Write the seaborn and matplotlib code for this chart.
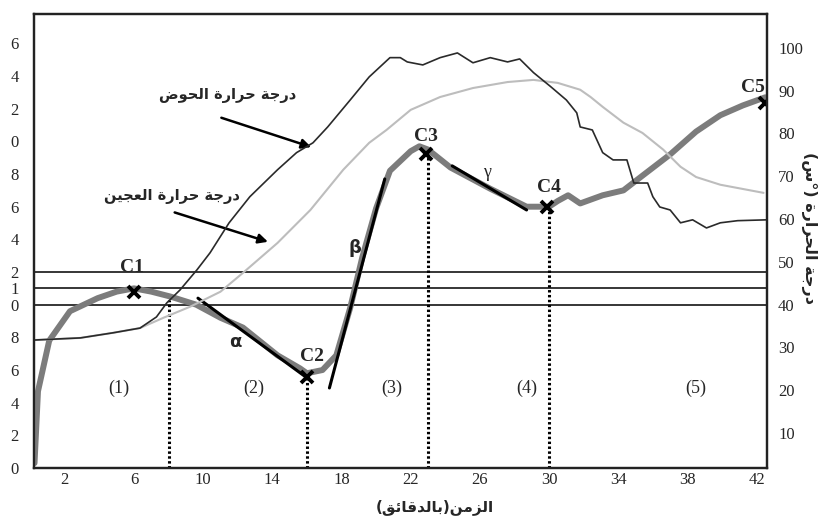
import numpy as np
import pandas as pd
import matplotlib
matplotlib.use("Agg")
import matplotlib.pyplot as plt
import seaborn as sns

# thick gray curve (left axis)
curve_t = [0.25, 0.45, 1.1, 2.3, 3.9, 5.0, 6.0, 7.0, 8.1, 9.6, 11.0, 12.3, 14.3, 15.6, 16.0,
           16.9, 17.7, 18.5, 19.2, 20.0, 20.8, 21.4, 22.0, 22.5, 23.0, 24.3, 26.6, 28.7, 30.0,
           30.5, 31.1, 31.8, 33.1, 34.3, 35.4, 37.0, 38.5, 39.9, 41.2, 42.5]
curve_v = [0.3, 4.7, 7.8, 9.6, 10.4, 10.8, 11.0, 10.8, 10.5, 10.0, 9.2, 8.6, 6.9, 6.1, 5.8,
           6.0, 6.9, 9.8, 12.9, 15.9, 18.2, 18.8, 19.4, 19.7, 19.5, 18.4, 17.1, 16.0, 16.0,
           16.35, 16.7, 16.2, 16.7, 17.0, 17.9, 19.2, 20.6, 21.6, 22.2, 22.7]

# bath temperature (right axis)
bath_t = [0.22, 2.9, 4.8, 6.35, 7.3, 7.9, 8.66, 9.64, 10.4, 11.5, 12.7, 14.3, 15.4, 16.35, 17.2,
          18.5, 19.6, 20.8, 21.4, 21.8, 22.7, 23.7, 24.7, 25.6, 26.6, 27.6, 28.3, 29.1, 30.1,
          31.0, 31.6, 31.8, 32.5, 33.1, 33.7, 34.5, 34.9, 35.7, 36.0, 36.4, 37.0, 37.6, 38.3,
          39.1, 39.9, 40.9, 42.6]
bath_deg = [31.7, 32.2, 33.4, 34.5, 37.1, 40.4, 43.4, 48.1, 52.1, 59.1, 65.2, 71.5, 75.5, 77.8,
            81.5, 87.8, 93.2, 97.7, 97.7, 96.7, 96.0, 97.7, 98.8, 96.5, 97.7, 96.7, 97.4, 94.2,
            90.9, 87.8, 84.8, 81.5, 80.8, 75.5, 73.8, 73.8, 68.4, 68.4, 65.2, 62.8, 62.1, 59.1,
            59.8, 57.9, 59.1, 59.6, 59.8]

# dough temperature (right axis)
dough_t = [0.22, 2.9, 4.8, 6.35, 7.7, 9.25, 11.0, 12.3, 14.3, 16.2, 18.1, 19.6, 20.6, 22.0,
           23.7, 25.6, 27.6, 29.1, 30.5, 31.8, 32.4, 33.1, 34.3, 35.4, 36.6, 37.6, 38.5, 39.9, 42.4]
dough_deg = [31.7, 32.2, 33.4, 34.5, 36.9, 39.5, 43.0, 47.4, 54.4, 62.1, 71.5, 77.8, 80.8, 85.5,
             88.5, 90.6, 92.0, 92.5, 91.8, 90.2, 88.5, 86.2, 82.5, 80.1, 76.2, 72.2, 69.8, 68.0, 66.1]

# points C1..C5
c_names = ["C1", "C2", "C3", "C4", "C5"]
c_t = [6.0, 16.0, 22.9, 29.9, 42.5]
c_v = [10.8, 5.6, 19.2, 16.0, 22.35]

# tangents
alpha_t, alpha_v = [9.7, 15.9], [10.4, 5.6]
beta_t, beta_v = [17.3, 20.5], [4.9, 17.7]
gamma_t, gamma_v = [24.4, 28.7], [18.5, 15.8]

# phase boundaries
div_t = [8, 16, 23, 30]
div_top = [10.3, 5.6, 19.2, 15.9]
phase_labels = ["(1)", "(2)", "(3)", "(4)", "(5)"]
phase_t = [5.1, 12.9, 20.9, 28.7, 38.5]

hlines_v = [10, 11, 12]
left_ticks = [0, 2, 4, 6, 8, 10, 11, 12, 14, 16, 18, 20, 22, 24, 26]
right_ticks = [10, 20, 30, 40, 50, 60, 70, 80, 90, 100]
x_ticks = [2, 6, 10, 14, 18, 22, 26, 30, 34, 38, 42]

AR_FORMS = {
    'ا': ('\uFE8D', '\uFE8E', None, None),
    'ب': ('\uFE8F', '\uFE90', '\uFE91', '\uFE92'),
    'ة': ('\uFE93', '\uFE94', None, None),
    'ج': ('\uFE9D', '\uFE9E', '\uFE9F', '\uFEA0'),
    'ح': ('\uFEA1', '\uFEA2', '\uFEA3', '\uFEA4'),
    'د': ('\uFEA9', '\uFEAA', None, None),
    'ر': ('\uFEAD', '\uFEAE', None, None),
    'ز': ('\uFEAF', '\uFEB0', None, None),
    'س': ('\uFEB1', '\uFEB2', '\uFEB3', '\uFEB4'),
    'ض': ('\uFEBD', '\uFEBE', '\uFEBF', '\uFEC0'),
    'ع': ('\uFEC9', '\uFECA', '\uFECB', '\uFECC'),
    'ق': ('\uFED5', '\uFED6', '\uFED7', '\uFED8'),
    'ل': ('\uFEDD', '\uFEDE', '\uFEDF', '\uFEE0'),
    'م': ('\uFEE1', '\uFEE2', '\uFEE3', '\uFEE4'),
    'ن': ('\uFEE5', '\uFEE6', '\uFEE7', '\uFEE8'),
    'و': ('\uFEED', '\uFEEE', None, None),
    'ي': ('\uFEF1', '\uFEF2', '\uFEF3', '\uFEF4'),
    'ئ': ('\uFE89', '\uFE8A', '\uFE8B', '\uFE8C'),
}


def shape(text):
    # matplotlib has no arabic shaping: pick joining forms, then reverse for RTL
    out = []
    for i, ch in enumerate(text):
        if ch not in AR_FORMS:
            out.append(ch)
            continue
        prev = text[i - 1] if i > 0 else ''
        nxt = text[i + 1] if i + 1 < len(text) else ''
        join_prev = prev in AR_FORMS and AR_FORMS[prev][2] is not None
        join_next = nxt in AR_FORMS and AR_FORMS[ch][2] is not None
        iso, fin, ini, med = AR_FORMS[ch]
        if join_prev and join_next:
            out.append(med)
        elif join_prev:
            out.append(fin)
        elif join_next:
            out.append(ini)
        else:
            out.append(iso)
    return ''.join(out)[::-1]


sns.set_theme(style="white")
plt.rcParams['font.family'] = ['Liberation Serif', 'DejaVu Sans']

fig = plt.figure(figsize=(8.27, 5.19), dpi=100)
ax = fig.add_axes([34 / 827, 51 / 519, 733 / 827, 454 / 519])
ax2 = ax.twinx()

# left axis content
for v in hlines_v:
    ax.axhline(v, color='black', lw=1.1, zorder=1)
ax.vlines(div_t, 0, div_top, colors='black', lw=2.2, linestyles=(0, (0.8, 0.8)), zorder=2)
sns.lineplot(x=curve_t, y=curve_v, ax=ax, color='#7c7c7c', lw=4.3, zorder=3)
for tt, vv in [(alpha_t, alpha_v), (beta_t, beta_v), (gamma_t, gamma_v)]:
    ax.plot(tt, vv, color='black', lw=2.2, zorder=4)
ax.plot(c_t, c_v, ls='none', marker='x', ms=8, mew=2.8, color='black', zorder=5)

# right axis temperatures
sns.lineplot(x=dough_t, y=dough_deg, ax=ax2, color='#bdbdbd', lw=1.5)
sns.lineplot(x=bath_t, y=bath_deg, ax=ax2, color='#2a2a2a', lw=1.2)

ax.set_xlim(0.22, 42.6)
ax.set_ylim(0, 27.8)
ax2.set_ylim(1.8, 107.9)

ax.set_xticks(x_ticks)
ax.set_xticklabels([str(x) for x in x_ticks])
ax.set_yticks(left_ticks)
ax.set_yticklabels([str(v)[-1] for v in left_ticks])
ax2.set_yticks(right_ticks)
ax2.set_yticklabels([str(v) for v in right_ticks])
ax.tick_params(axis='x', length=0, pad=3, labelsize=12)
ax.tick_params(axis='y', length=0, pad=11, labelsize=12)
ax2.tick_params(axis='y', length=0, pad=8, labelsize=12)
ax.set_xlabel('')
ax.set_ylabel('')
ax2.set_ylabel('')
for a in (ax, ax2):
    for s in a.spines.values():
        s.set_linewidth(1.6)
        s.set_color('#222222')
        s.set_visible(True)

# point labels
c_lab_t = [5.9, 16.3, 22.9, 30.0, 41.8]
c_lab_v = [12.3, 6.8, 20.3, 17.2, 23.3]
for name, tt, vv in zip(c_names, c_lab_t, c_lab_v):
    ax.text(tt, vv, name, ha='center', va='center', fontsize=14, fontweight='bold',
            family='Liberation Serif', zorder=6)

ax.text(11.85, 7.7, 'α', ha='center', va='center', fontsize=13, fontweight='bold', family='DejaVu Sans')
ax.text(18.8, 13.5, 'β', ha='center', va='center', fontsize=13, fontweight='bold', family='DejaVu Sans')
ax.text(26.4, 18.1, 'γ', ha='center', va='center', fontsize=13, family='Liberation Serif')

for lab, tt in zip(phase_labels, phase_t):
    ax.text(tt, 4.9, lab, ha='center', va='center', fontsize=13, family='Liberation Serif')

# curve names with arrows
ax.text(11.4, 22.8, shape('درجة حرارة الحوض'), ha='center', va='center', fontsize=10.5,
        fontweight='bold', family='DejaVu Sans')
ax.annotate('', xy=(16.4, 19.6), xytext=(10.9, 21.5),
            arrowprops=dict(arrowstyle='-|>', color='black', lw=1.8, mutation_scale=14))
ax.text(8.2, 16.6, shape('درجة حرارة العجين'), ha='center', va='center', fontsize=10.5,
        fontweight='bold', family='DejaVu Sans')
ax.annotate('', xy=(13.9, 13.8), xytext=(8.2, 15.7),
            arrowprops=dict(arrowstyle='-|>', color='black', lw=1.8, mutation_scale=14))

# axis titles
fig.text(435 / 827, 1 - 507 / 519, '(' + shape('بالدقائق') + ')' + shape('الزمن'),
         ha='center', va='center', fontsize=11, fontweight='bold', family='DejaVu Sans')
fig.text(809 / 827, 1 - 228 / 519, '(' + shape('س') + '°) ' + shape('درجة الحرارة'),
         ha='center', va='center', rotation=270, fontsize=11.5, fontweight='bold',
         family='DejaVu Sans')

fig.savefig('out.png', dpi=100, facecolor='white')
